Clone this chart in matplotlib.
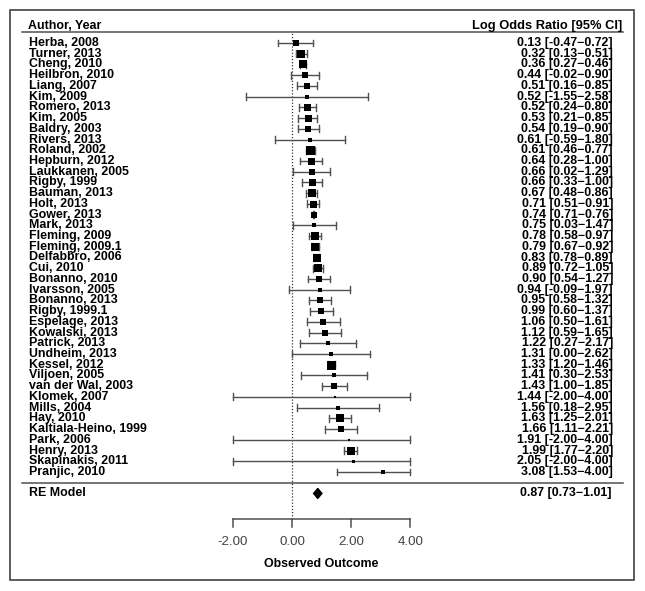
import matplotlib
matplotlib.use('Agg')
import matplotlib.pyplot as plt
from matplotlib.patches import Rectangle, Polygon

# Estudos (de cima para baixo)
autores = ['Herba, 2008', 'Turner, 2013', 'Cheng, 2010', 'Heilbron, 2010', 'Liang, 2007',
           'Kim, 2009', 'Romero, 2013', 'Kim, 2005', 'Baldry, 2003', 'Rivers, 2013',
           'Roland, 2002', 'Hepburn, 2012', 'Laukkanen, 2005', 'Rigby, 1999', 'Bauman, 2013',
           'Holt, 2013', 'Gower, 2013', 'Mark, 2013', 'Fleming, 2009', 'Fleming, 2009.1',
           'Delfabbro, 2006', 'Cui, 2010', 'Bonanno, 2010', 'Ivarsson, 2005', 'Bonanno, 2013',
           'Rigby, 1999.1', 'Espelage, 2013', 'Kowalski, 2013', 'Patrick, 2013', 'Undheim, 2013',
           'Kessel, 2012', 'Viljoen, 2005', 'van der Wal, 2003', 'Klomek, 2007', 'Mills, 2004',
           'Hay, 2010', 'Kaltiala-Heino, 1999', 'Park, 2006', 'Henry, 2013', 'Skapinakis, 2011',
           'Pranjic, 2010']

lor = [0.13, 0.32, 0.36, 0.44, 0.51, 0.52, 0.52, 0.53, 0.54, 0.61,
       0.61, 0.64, 0.66, 0.66, 0.67, 0.71, 0.74, 0.75, 0.78, 0.79,
       0.83, 0.89, 0.90, 0.94, 0.95, 0.99, 1.06, 1.12, 1.22, 1.31,
       1.33, 1.41, 1.43, 1.44, 1.56, 1.63, 1.66, 1.91, 1.99, 2.05, 3.08]

ic_inf = [-0.47, 0.13, 0.27, -0.02, 0.16, -1.55, 0.24, 0.21, 0.19, -0.59,
          0.46, 0.28, 0.02, 0.33, 0.48, 0.51, 0.71, 0.03, 0.58, 0.67,
          0.78, 0.72, 0.54, -0.09, 0.58, 0.60, 0.50, 0.59, 0.27, 0.00,
          1.20, 0.30, 1.00, -2.00, 0.18, 1.25, 1.11, -2.00, 1.77, -2.00, 1.53]

ic_sup = [0.72, 0.51, 0.46, 0.90, 0.85, 2.58, 0.80, 0.85, 0.90, 1.80,
          0.77, 1.00, 1.29, 1.00, 0.86, 0.91, 0.76, 1.47, 0.97, 0.92,
          0.89, 1.05, 1.27, 1.97, 1.32, 1.37, 1.61, 1.65, 2.17, 2.62,
          1.46, 2.53, 1.85, 4.00, 2.95, 2.01, 2.21, 4.00, 2.20, 4.00, 4.00]

# Pesos relativos (tamanho dos quadrados)
pesos = [6, 8, 7.5, 6.5, 6.5, 3.3, 7, 7, 6.5, 4,
         9, 7, 6, 7, 7.3, 7, 6.7, 5, 8.5, 8,
         8, 8, 6.7, 4.3, 6.7, 6.7, 5.7, 6, 5, 4,
         9, 4.3, 6.7, 2.7, 4, 7.3, 6.3, 2, 7.3, 3, 3.3]

# Modelo de efeitos aleatórios
re_est, re_inf, re_sup = 0.87, 0.73, 1.01

ticks = [-2, 0, 2, 4]

W, H = 645, 591
fig = plt.figure(figsize=(W / 100, H / 100), dpi=100)
ax = fig.add_axes([0, 0, 1, 1])

n = len(autores)
s = 10.725          # pixels por linha
px0 = 292           # pixel do zero
ppu = 29.6          # pixels por unidade
ax.set_xlim(-px0 / ppu, (W - px0) / ppu)
ax.set_ylim(n - (H - 43) / s, n + 43 / s)
ax.axis('off')

cinza = '#505050'
fonte = 'Liberation Sans'
fs = 8.9

def xpx(p):
    return (p - px0) / ppu

# Borda
fig.patches.append(Rectangle((10 / W, 1 - 580 / H), 624 / W, 570 / H, transform=fig.transFigure,
                             fill=False, edgecolor=cinza, linewidth=1.3))

# Linhas do cabeçalho e separadora
for yl in [n + 1, 0]:
    ax.plot([xpx(22), xpx(623)], [yl, yl], color=cinza, lw=1.1)

ax.text(xpx(28), n + 1.6, 'Author, Year', fontsize=fs, fontweight='bold', family=fonte,
        va='center', ha='left')
ax.text(xpx(622), n + 1.6, 'Log Odds Ratio [95% CI]', fontsize=9.3, fontweight='bold', family=fonte,
        va='center', ha='right')

eixo_y = -3.38
# Linha pontilhada no zero
ax.plot([0, 0], [eixo_y, n + 1], color='#333333', lw=0.9, ls=(0, (1, 1.5)))

cap = 0.32
for i in range(n):
    y = n - i
    ax.plot([ic_inf[i], ic_sup[i]], [y, y], color=cinza, lw=1.0)
    for c in [ic_inf[i], ic_sup[i]]:
        ax.plot([c, c], [y - cap, y + cap], color=cinza, lw=1.0)
    ax.plot(lor[i], y, marker='s', color='black', ms=pesos[i] * 0.72, mew=0)
    ax.text(xpx(29), y, autores[i], fontsize=fs, fontweight='bold', family=fonte,
            va='center', ha='left')
    ax.text(xpx(613), y, '%.2f [%.2f\u2212%.2f]' % (lor[i], ic_inf[i], ic_sup[i]),
            fontsize=fs, fontweight='bold', family=fonte, va='center', ha='right')

# Diamante do modelo RE
ax.add_patch(Polygon([[re_inf, -1], [re_est, -1 + 0.47], [re_sup, -1], [re_est, -1 - 0.47]],
                     closed=True, color='black'))
ax.text(xpx(29), -1, 'RE Model', fontsize=fs, fontweight='bold', family=fonte, va='center', ha='left')
ax.text(xpx(611), -1, '%.2f [%.2f\u2212%.2f]' % (re_est, re_inf, re_sup),
        fontsize=fs, fontweight='bold', family=fonte, va='center', ha='right')

# Eixo x desenhado à mão
ax.plot([ticks[0], ticks[-1]], [eixo_y, eixo_y], color=cinza, lw=1.1)
for t in ticks:
    ax.plot([t, t], [eixo_y, eixo_y - 8 / s], color=cinza, lw=1.1)
    ax.text(t, -5.53, '%.2f' % t, fontsize=9.6, family=fonte, color='#444444',
            va='center', ha='center')
ax.text((ticks[0] + ticks[-1]) / 2, -7.58, 'Observed Outcome', fontsize=fs, fontweight='bold',
        family=fonte, va='center', ha='center')

fig.savefig('out.png', dpi=100)
